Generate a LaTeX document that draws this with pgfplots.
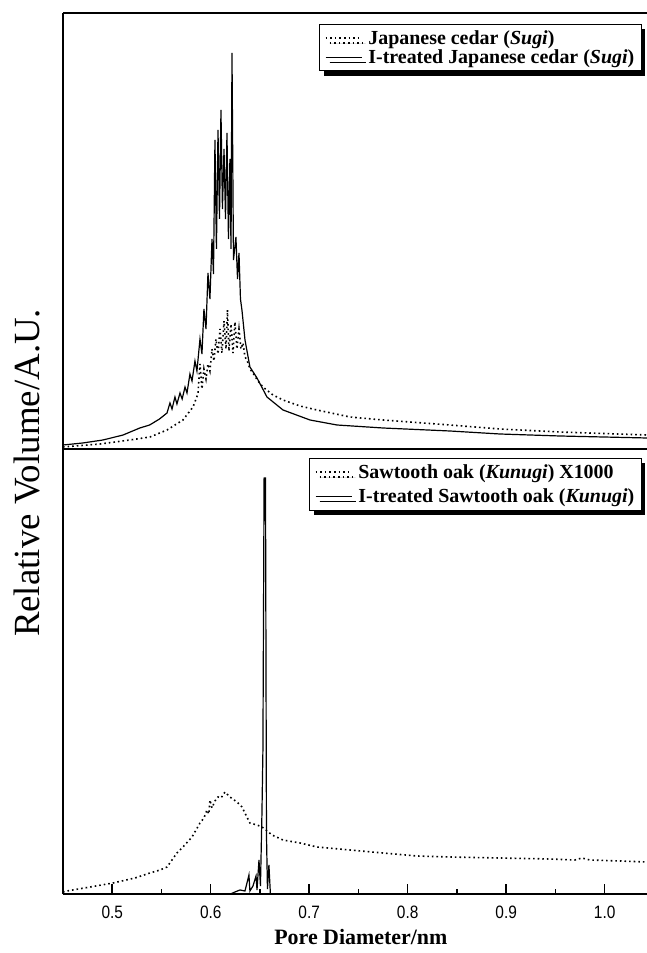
\documentclass[border=0pt]{standalone}
\usepackage{fontspec}
\setmainfont{Liberation Serif}
\newfontfamily\tickfont{Liberation Sans}
\usepackage{graphicx}
\usepackage{pgfplots}
\pgfplotsset{compat=1.18}
\usetikzlibrary{shadows}

% narrow sans tick numbers
\newcommand{\tl}[1]{\scalebox{0.86}[1]{#1}}

% Pore size distributions (relative volume, arbitrary units)
\pgfplotstableread{
x y
0.4500 4
0.4700 6
0.4906 9
0.5110 14
0.5280 21
0.5380 24
0.5480 30
0.5556 36
0.5586 46
0.5607 40
0.5637 52
0.5657 45
0.5688 56
0.5710 50
0.5739 62
0.5759 56
0.5789 75
0.5810 68
0.5840 88
0.5860 78
0.5891 110
0.5911 95
0.5931 140
0.5952 120
0.5972 176
0.5992 150
0.6013 210
0.6028 175
0.6043 309
0.6058 200
0.6074 319
0.6089 230
0.6104 339
0.6119 240
0.6135 300
0.6150 230
0.6165 316
0.6180 210
0.6195 290
0.6206 200
0.6216 396
0.6231 189
0.6256 212
0.6272 170
0.6287 196
0.6302 150
0.6317 139
0.6348 109
0.6398 82
0.6470 71
0.6571 52
0.6734 39
0.7008 29
0.7282 24
0.7749 21
0.8429 18
0.8937 15
0.9546 13
1.0430 11
}\sugiI

\pgfplotstableread{
x y
0.4500 2
0.4876 5
0.5180 9
0.5383 12
0.5556 19
0.5718 29
0.5820 42
0.5870 55
0.5891 85
0.5911 60
0.5931 80
0.5952 70
0.5972 85
0.5992 78
0.6013 100
0.6033 88
0.6053 110
0.6074 95
0.6094 120
0.6114 96
0.6135 128
0.6155 100
0.6170 139
0.6185 98
0.6206 125
0.6226 96
0.6246 127
0.6266 100
0.6287 120
0.6307 100
0.6327 106
0.6348 92
0.6368 89
0.6398 80
0.6429 76
0.6480 68
0.6530 62
0.6632 54
0.6734 49
0.6906 43
0.7079 39
0.7414 32
0.7749 29
0.8429 24
0.8937 20
0.9546 17
1.0430 14
}\sugi

\pgfplotstableread{
x y
0.4500 2
0.4541 3
0.4774 7
0.5008 11
0.5231 16
0.5383 21
0.5485 24
0.5556 27
0.5657 41
0.5718 47
0.5810 57
0.5891 71
0.5931 76
0.5962 84
0.5982 80
0.5992 94
0.6013 86
0.6043 93
0.6074 97
0.6104 96
0.6145 102
0.6195 97
0.6266 92
0.6317 87
0.6368 77
0.6398 71
0.6470 69
0.6520 67
0.6561 64
0.6622 59
0.6734 54
0.6906 51
0.7079 47
0.7414 44
0.7749 41
0.8094 38
0.8429 37
0.8937 36
0.9444 35
0.9698 34
0.9769 36
0.9850 34
1.0155 33
1.0430 32
}\kunugi

\pgfplotstableread{
x y
0.4500 0
0.6200 0
0.6246 2
0.6297 4
0.6348 3
0.6388 19
0.6398 3
0.6429 8
0.6460 18
0.6470 4
0.6490 34
0.6505 8
0.6520 80
0.6530 144
0.6542 416
0.6556 416
0.6566 60
0.6576 5
0.6591 29
0.6606 0
1.0430 0
}\kunugiI

\pgfplotsset{
  panel/.style={
    scale only axis, width=584bp,
    xmin=0.45, xmax=1.043, ymin=0,
    axis y line*=left, ytick=\empty,
    axis line style={line width=1.5bp, -},
    legend cell align=left,
    legend style={draw=black, line width=1bp, fill=white,
      font=\bfseries\fontsize{20}{20}\selectfont,
      inner xsep=5bp, inner ysep=4bp,
      drop shadow={shadow xshift=4bp, shadow yshift=-5bp, fill=black, opacity=1}},
    legend image code/.code={\draw[##1] (0bp,0bp) -- (36bp,0bp);},
  },
  dotline/.style={black, line width=1.6bp, dash pattern=on 1.6bp off 3bp},
  solidline/.style={black, line width=1.2bp},
}

\begin{document}
\begin{tikzpicture}
\path[use as bounding box] (-63bp,-59bp) rectangle (584bp,894bp);

% lower panel: sawtooth oak
\begin{axis}[panel, at={(0,0)}, anchor=south west,
  height=445bp, ymax=445,
  xtick={0.5,0.6,0.7,0.8,0.9,1.0},
  xticklabels={\tl{0.5},\tl{0.6},\tl{0.7},\tl{0.8},\tl{0.9},\tl{1.0}},
  minor xtick={0.55,0.65,0.75,0.85,0.95},
  xtick pos=left, tick align=inside,
  major tick length=10bp, minor tick length=5bp,
  every tick/.style={black, line width=1.5bp},
  xticklabel style={font=\tickfont\fontsize{18}{18}\selectfont,
    anchor=center, yshift=-18bp},
  xlabel={\textbf{Pore Diameter/nm}},
  xlabel style={font=\fontsize{22}{22}\selectfont,
    at={(axis description cs:0.51,0)}, anchor=center, yshift=-43bp},
  legend style={at={(0.991,0.98)}, anchor=north east, row sep=5bp}]
\addplot[dotline] table {\kunugi};
\addlegendentry{\hspace{4bp}Sawtooth oak (\textit{Kunugi}) X1000}
\addplot[solidline] table {\kunugiI};
\addlegendentry{\hspace{4bp}I-treated Sawtooth oak (\textit{Kunugi})}
\end{axis}

% upper panel: Japanese cedar
\begin{axis}[panel, at={(0,445bp)}, anchor=south west,
  height=436bp, ymax=436, xtick=\empty,
  legend style={at={(0.991,0.975)}, anchor=north east}]
\addplot[dotline] table {\sugi};
\addlegendentry{\hspace{4bp}Japanese cedar (\textit{Sugi})}
\addplot[solidline] table {\sugiI};
\addlegendentry{\hspace{4bp}I-treated Japanese cedar (\textit{Sugi})}
\end{axis}

\node[rotate=90, font=\fontsize{37}{37}\selectfont] at (-36bp,421bp) {Relative Volume/A.U.};
\end{tikzpicture}
\end{document}
